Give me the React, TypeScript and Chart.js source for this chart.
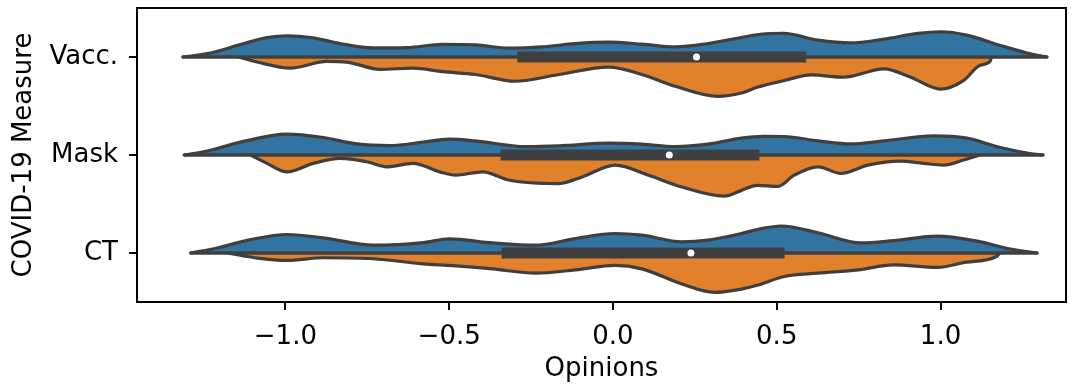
import React, { useEffect, useRef } from "react";
import { Chart, registerables } from "chart.js";

Chart.register(...registerables);

// ---- data ----
const categories = ["Vacc.", "Mask", "CT"];
const xTickValues = [-1, -0.5, 0, 0.5, 1];

// densities (relative units) for each half of each split violin
const vaccYesX = [-1.313, -1.238, -1.137, -1.056, -0.995, -0.915, -0.833, -0.732, -0.63, -0.52, -0.42, -0.317, -0.216, -0.115, -0.013, 0.088, 0.19, 0.29, 0.37, 0.45, 0.52, 0.626, 0.726, 0.827, 0.93, 1.0, 1.08, 1.18, 1.264, 1.325];
const vaccYesD = [0, 3.3, 12.3, 19.3, 21, 19, 13.3, 9, 9.3, 12.5, 12, 8.7, 10, 13.3, 14.7, 12.7, 10, 13.3, 18, 22.5, 23.5, 16.7, 14, 17.7, 23.3, 25, 21.7, 11.7, 4, 0];
const vaccNoX = [-1.143, -1.086, -0.985, -0.873, -0.812, -0.711, -0.61, -0.52, -0.42, -0.298, -0.164, -0.013, 0.088, 0.19, 0.32, 0.392, 0.44, 0.523, 0.605, 0.705, 0.827, 0.909, 1.0, 1.07, 1.12, 1.152, 1.155];
const vaccNoD = [0, 5, 11, 4.3, 5, 12.3, 11, 14.5, 17.3, 24, 17.3, 10, 17.3, 29, 39, 35.7, 30, 23.3, 17.7, 20, 11.7, 20, 31.7, 23.3, 8.3, 4, 0];

const maskYesX = [-1.309, -1.238, -1.137, -0.995, -0.884, -0.782, -0.681, -0.58, -0.5, -0.42, -0.267, -0.164, -0.013, 0.088, 0.19, 0.29, 0.392, 0.46, 0.523, 0.626, 0.726, 0.827, 0.979, 1.08, 1.18, 1.283, 1.313];
const maskYesD = [0, 4, 12.7, 20.7, 17.3, 11, 9.3, 12.7, 15.7, 14, 8.3, 9, 11.7, 10.7, 8.3, 10.7, 16.7, 18.5, 18.3, 14, 11, 14, 19, 16.7, 7.7, 1, 0];
const maskNoX = [-1.106, -1.056, -0.995, -0.915, -0.833, -0.752, -0.691, -0.61, -0.529, -0.48, -0.398, -0.316, -0.164, -0.094, 0.006, 0.109, 0.21, 0.34, 0.392, 0.44, 0.504, 0.553, 0.626, 0.696, 0.778, 0.878, 0.948, 1.009, 1.07, 1.12];
const maskNoD = [0, 8.3, 16.7, 8.3, 3.3, 6.7, 11.7, 8.3, 16.7, 20, 16.7, 25, 28.3, 21.7, 10, 20, 31.7, 40.7, 35, 30, 31, 20, 11.7, 18.3, 10, 6, 8.3, 10, 5, 0];

const ctYesX = [-1.289, -1.208, -1.106, -0.995, -0.884, -0.732, -0.58, -0.5, -0.368, -0.237, -0.115, 0.006, 0.088, 0.21, 0.29, 0.392, 0.45, 0.514, 0.626, 0.757, 0.857, 0.99, 1.112, 1.213, 1.295];
const ctYesD = [0, 5, 13.3, 18.3, 15, 7.7, 10.3, 14, 10, 7.7, 14.3, 19.3, 17.7, 11, 12.7, 19.3, 24, 26.7, 20, 10, 12.3, 16.7, 11.7, 4, 0];
const ctNoX = [-1.177, -1.086, -0.995, -0.884, -0.732, -0.58, -0.49, -0.368, -0.237, -0.115, 0.006, 0.088, 0.21, 0.31, 0.392, 0.44, 0.523, 0.626, 0.748, 0.857, 0.99, 1.08, 1.173, 1.18];
const ctNoD = [0, 5, 7.3, 4.7, 5.7, 10.7, 12.5, 15.7, 20, 16.7, 12.3, 15.7, 30.7, 39, 35.7, 32, 23.3, 20, 16.7, 11.7, 14.3, 9, 3, 0];

const boxQ1 = [-0.292, -0.343, -0.34];
const boxQ3 = [0.59, 0.447, 0.524];
const medians = [0.255, 0.172, 0.238];

// ---- styles ----
const BLUE = "#3274A1";
const ORANGE = "#E1812C";
const GRAY = "#3f3f3f";
const WIDTH_SCALE = 1 / 97;
const FONT = "DejaVu Sans";
const FONT_SIZE = 26;

export default function App() {
  const ref = useRef<HTMLCanvasElement | null>(null);

  useEffect(() => {
    if (!ref.current) return;
    const halves = [
      { cat: 0, side: -1, x: vaccYesX, d: vaccYesD, color: BLUE },
      { cat: 0, side: 1, x: vaccNoX, d: vaccNoD, color: ORANGE },
      { cat: 1, side: -1, x: maskYesX, d: maskYesD, color: BLUE },
      { cat: 1, side: 1, x: maskNoX, d: maskNoD, color: ORANGE },
      { cat: 2, side: -1, x: ctYesX, d: ctYesD, color: BLUE },
      { cat: 2, side: 1, x: ctNoX, d: ctNoD, color: ORANGE },
    ];
    const datasets: any[] = [];
    halves.forEach((h) => {
      datasets.push({
        type: "line",
        data: h.x.map((xv, i) => ({ x: xv, y: h.cat + h.side * h.d[i] * WIDTH_SCALE })),
        fill: { value: h.cat },
        backgroundColor: h.color,
        borderColor: GRAY,
        borderWidth: 3.2,
        borderJoinStyle: "round",
        pointRadius: 0,
        cubicInterpolationMode: "monotone",
        order: 10,
      });
    });
    categories.forEach((_, c) => {
      const pair = halves.filter((h) => h.cat === c);
      const lo = Math.min(...pair.map((h) => h.x[0]));
      const hi = Math.max(...pair.map((h) => h.x[h.x.length - 1]));
      datasets.push({
        type: "line",
        data: [{ x: lo, y: c }, { x: hi, y: c }],
        borderColor: GRAY,
        borderWidth: 3.4,
        borderCapStyle: "round",
        pointRadius: 0,
        fill: false,
        order: 5,
      });
      datasets.push({
        type: "line",
        data: [{ x: boxQ1[c], y: c }, { x: boxQ3[c], y: c }],
        borderColor: GRAY,
        borderWidth: 11,
        borderCapStyle: "butt",
        pointRadius: 0,
        fill: false,
        order: 2,
      });
      datasets.push({
        type: "scatter",
        data: [{ x: medians[c], y: c }],
        pointRadius: 3.5,
        pointBackgroundColor: "#ffffff",
        pointBorderWidth: 0,
        order: 1,
      });
    });

    const frame = {
      id: "frame",
      afterDatasetsDraw(chart: any) {
        const { ctx, chartArea } = chart;
        ctx.save();
        ctx.strokeStyle = "#000";
        ctx.lineWidth = 2;
        ctx.strokeRect(chartArea.left, chartArea.top, chartArea.right - chartArea.left, chartArea.bottom - chartArea.top);
        ctx.restore();
      },
    };

    const chart = new Chart(ref.current, {
      type: "line",
      data: { datasets },
      plugins: [frame],
      options: {
        animation: false,
        responsive: false,
        devicePixelRatio: 1,
        layout: { padding: { left: 0, top: 8, right: 16, bottom: 0 } },
        plugins: { legend: { display: false }, tooltip: { enabled: false } },
        scales: {
          x: {
            type: "linear",
            min: -1.453,
            max: 1.383,
            afterBuildTicks: (s: any) => {
              s.ticks = xTickValues.map((v) => ({ value: v }));
            },
            afterFit: (s: any) => {
              s.height = 83;
              s.paddingLeft = 0;
              s.paddingRight = 0;
            },
            grid: { drawOnChartArea: false, drawTicks: true, tickLength: 8, lineWidth: 2, color: "#000" },
            border: { display: false },
            ticks: {
              color: "#000",
              font: { family: FONT, size: FONT_SIZE },
              padding: 12,
              maxRotation: 0,
              callback: (v: any) => (v < 0 ? "\u2212" : "") + Math.abs(Number(v)).toFixed(1),
            },
            title: { display: true, text: "Opinions", color: "#000", font: { family: FONT, size: FONT_SIZE, lineHeight: 1.2 }, padding: 0 },
          },
          y: {
            type: "linear",
            min: -0.5,
            max: 2.5,
            reverse: true,
            afterBuildTicks: (s: any) => {
              s.ticks = categories.map((_, i) => ({ value: i }));
            },
            afterFit: (s: any) => {
              s.width = 137;
              s.paddingTop = 0;
              s.paddingBottom = 0;
            },
            grid: { drawOnChartArea: false, drawTicks: true, tickLength: 8, lineWidth: 2, color: "#000" },
            border: { display: false },
            ticks: {
              color: "#000",
              font: { family: FONT, size: FONT_SIZE },
              padding: 11,
              callback: (v: any) => categories[Number(v)] ?? "",
            },
            title: { display: true, text: "COVID-19 Measure", color: "#000", font: { family: FONT, size: FONT_SIZE, lineHeight: 1.2 }, padding: { top: 9, bottom: 0 } },
          },
        },
      } as any,
    });
    return () => chart.destroy();
  }, []);

  return (
    <div style={{ position: "absolute", left: 0, top: 0, width: 1082, height: 385, background: "#fff" }}>
      <canvas ref={ref} width={1082} height={385} style={{ width: 1082, height: 385, display: "block" }} />
    </div>
  );
}
